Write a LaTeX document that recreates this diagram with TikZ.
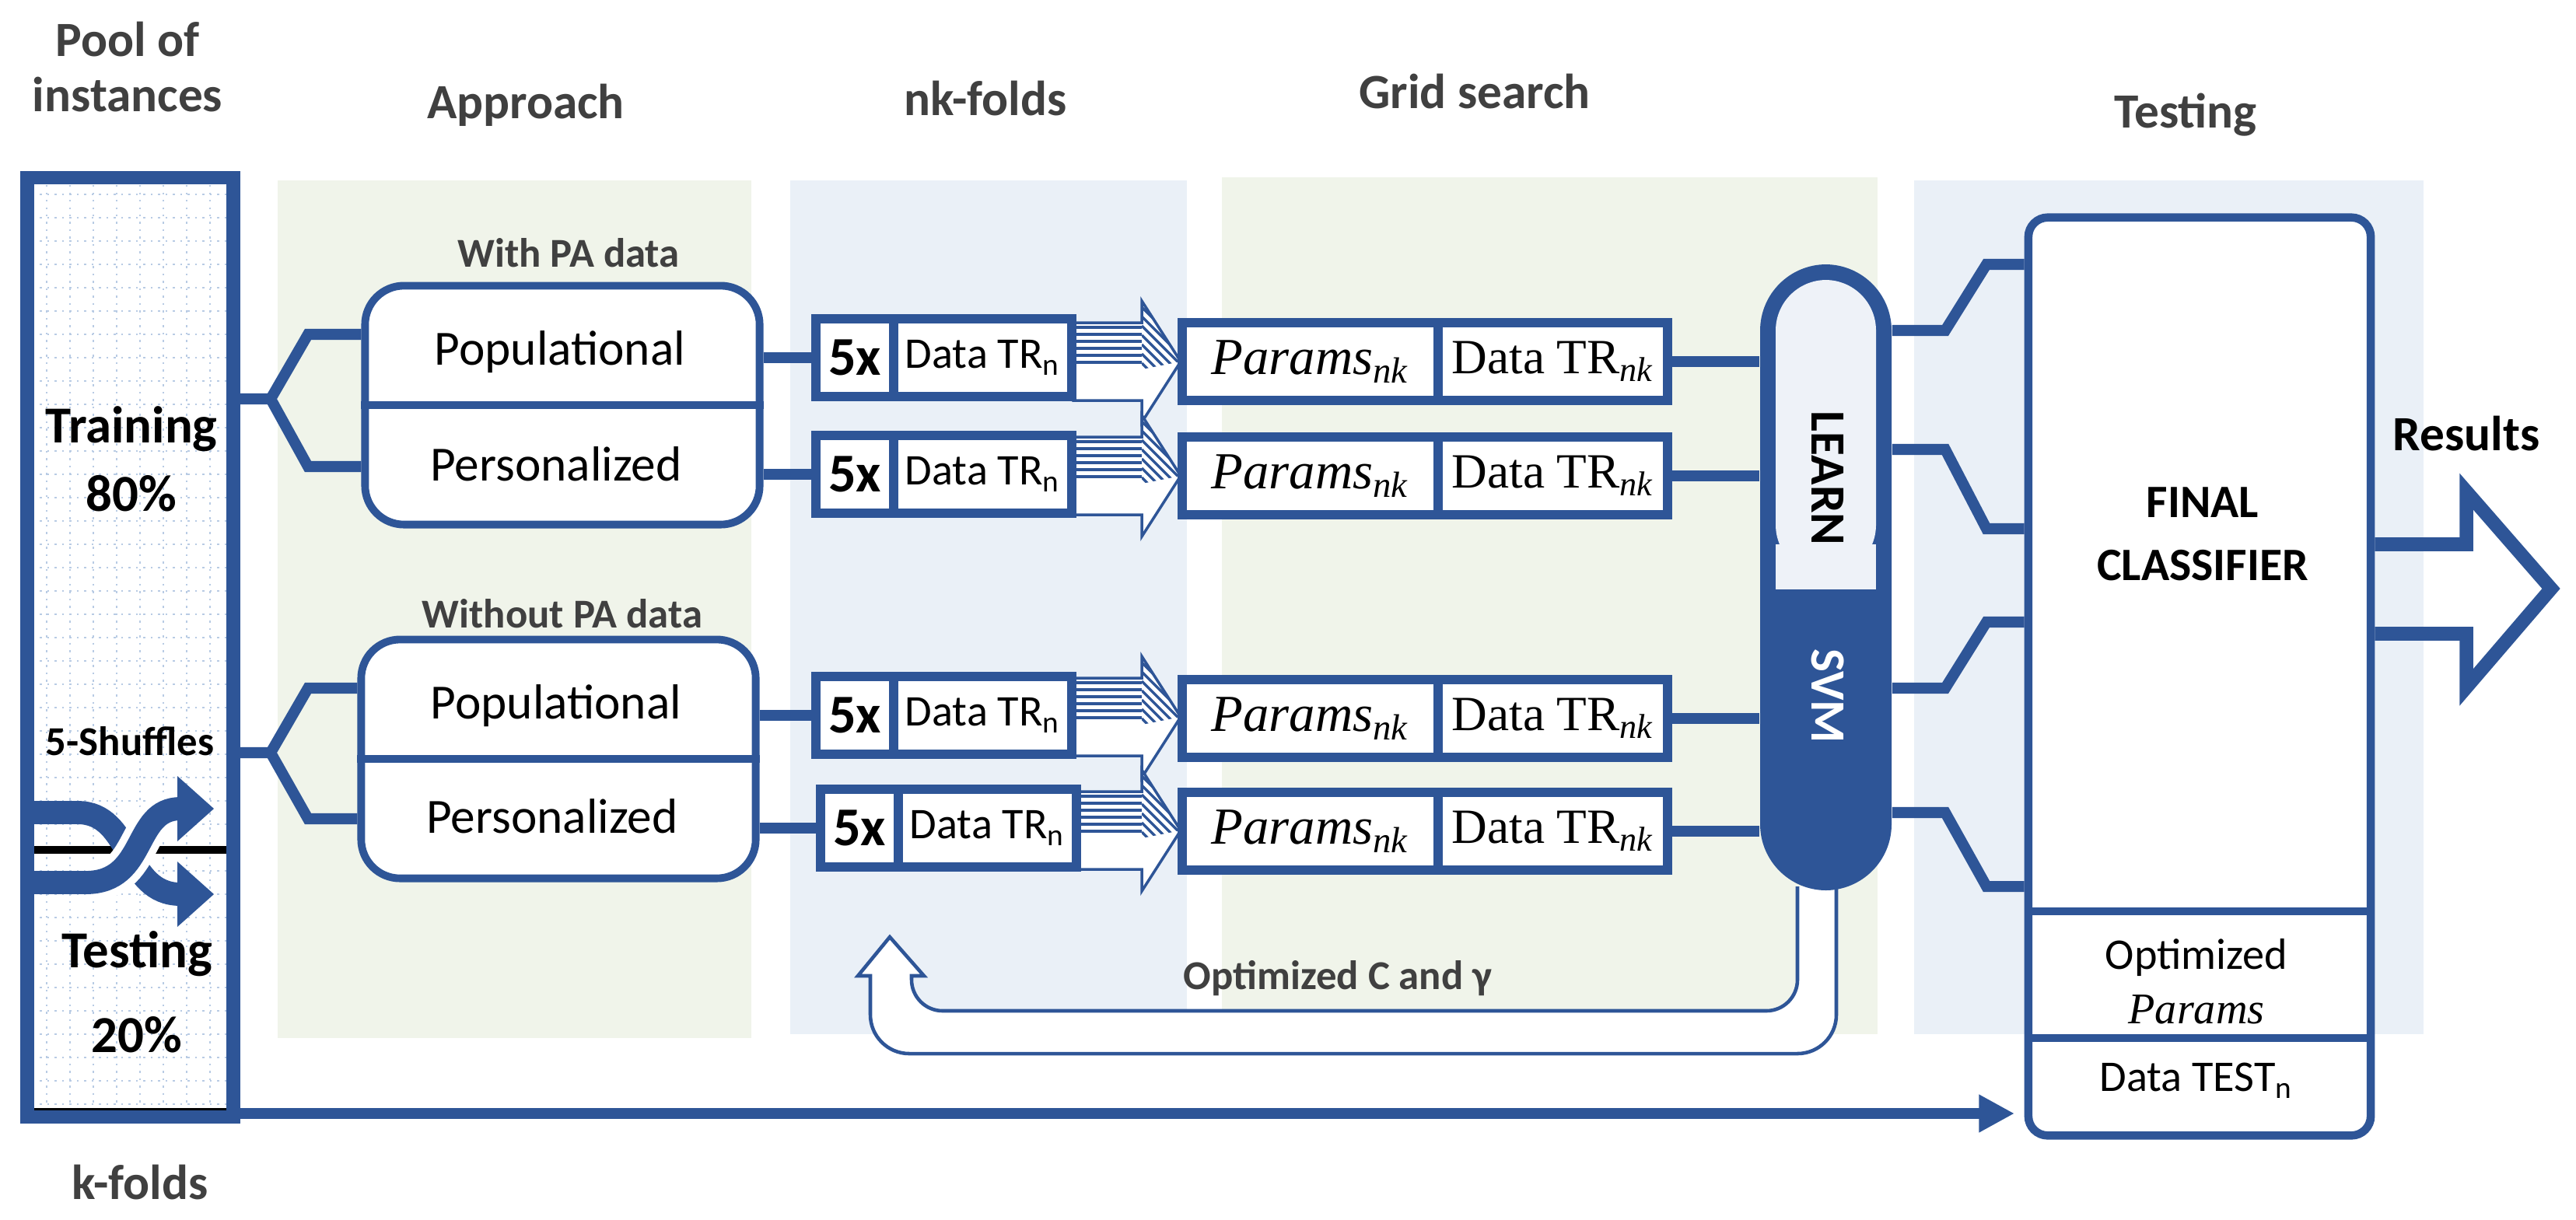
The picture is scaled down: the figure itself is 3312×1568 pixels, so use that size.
\documentclass[tikz,border=0pt]{standalone}
\usepackage{fontspec}
\setmainfont{Carlito}
\newfontfamily\cam{Liberation Serif}
\usetikzlibrary{arrows.meta}
\definecolor{bl}{HTML}{2E5597}
\definecolor{hd}{HTML}{404040}
\definecolor{gbg}{HTML}{F0F4EA}
\definecolor{bbg}{HTML}{EAF0F7}
\definecolor{gl}{HTML}{B8CBE4}
\definecolor{lf}{HTML}{EEF2F8}
\newcommand{\fs}[1]{\fontsize{#1}{#1}\selectfont}
\newcommand{\Pnk}{{\cam\itshape Params}\textsubscript{\cam\itshape nk}}
\newcommand{\DTRnk}{{\cam Data TR}\textsubscript{\cam\itshape nk}}
\newcommand{\DTRn}{Data TR\textsubscript{n}}
\newcommand\sarrow[1]{\begin{scope}[shift={(0,#1)}]
 \filldraw[draw=bl,fill=white,line width=1pt] (1380,-50) -- (1468,-50) -- (1468,-78) -- (1518,0) -- (1468,78) -- (1468,50) -- (1380,50) -- cycle;
 \foreach \s in {-44,-35,...,4} \draw[bl,line width=1.2pt] (1380,\s) -- (1468,\s);
 \begin{scope}\clip (1468,-78) -- (1518,0) -- (1468,10) -- cycle;
  \foreach \s in {-130,-118,...,10} \draw[bl,line width=1pt] (1468,\s) -- ++(70,70);\end{scope}
\end{scope}}
\begin{document}
\begin{tikzpicture}[x=0.01cm,y=-0.01cm,
 hdr/.style={font=\fs{18}\bfseries,text=hd,align=center},
 conn/.style={draw=bl,line width=4pt},
 cell/.style={draw=bl,line width=3.4pt,fill=white,minimum height=1.0cm,inner sep=0pt},
 abox/.style={draw=bl,line width=2.8pt,rounded corners=0.5cm,fill=white,minimum width=5.07cm,minimum height=3.07cm},
 txt/.style={font=\fs{18}},
 sub/.style={font=\fs{15}\bfseries,text=hd}]
\useasboundingbox[fill=white] (0,0) rectangle (3312,1568);
% backgrounds
\fill[gbg] (357,232) rectangle (966,1335);
\fill[bbg] (1016,232) rectangle (1526,1330);
\fill[gbg] (1571,228) rectangle (2414,1330);
\fill[bbg] (2461,232) rectangle (3116,1330);
% headers
\node[hdr] at (164,86) {Pool of\\[2pt]instances};
\node[hdr] at (676,135) {Approach};
\node[hdr] at (1267,127) {nk-folds};
\node[hdr] at (1896,118) {Grid search};
\node[hdr] at (2810,148) {Testing};
\node[hdr] at (180,1520) {k-folds};
% pool
\fill[white] (35,229) rectangle (300,1436);
\foreach \x in {60,90,...,290} \draw[gl,dotted,line width=0.7pt] (\x,238) -- (\x,1425);
\foreach \y in {250,280,...,1420} \draw[gl,dotted,line width=0.7pt] (42,\y) -- (294,\y);
\draw[black,line width=3pt] (42,1093) -- (294,1093);
\draw[black,line width=1.5pt] (42,1428) -- (294,1428);
\draw[bl,line width=8.5pt] (42,1045) -- (100,1045) .. controls (170,1045) and (160,1150) .. (232,1150);
\fill[bl] (228,1108) -- (275,1150) -- (228,1192) -- cycle;
\draw[white,line width=14pt] (110,1135) .. controls (190,1135) and (170,1040) .. (232,1040);
\draw[bl,line width=8.5pt] (42,1135) -- (110,1135) .. controls (190,1135) and (170,1040) .. (232,1040);
\fill[bl] (228,998) -- (275,1040) -- (228,1082) -- cycle;
\node[draw=bl,line width=5pt,minimum width=2.65cm,minimum height=12.07cm,inner sep=0pt] (pool) at (167.5,832.5) {};
\node[font=\fs{19}\bfseries,align=center] at (169,590) {Training\\[6pt]80\%};
\node[font=\fs{15}\bfseries] at (167,953) {5-Shuffles};
\node[font=\fs{19}\bfseries,align=center] at (176,1276) {Testing\\[12pt]20\%};
% approach
\node[sub] at (731,325) {With PA data};
\node[sub] at (723,789) {Without PA data};
\node[abox] (apA) at (723,521) {};
\node[abox] (apB) at (718,976) {};
\draw[bl,line width=2.8pt] (apA.west) -- (apA.east);
\draw[bl,line width=2.8pt] (apB.west) -- (apB.east);
\node[txt] at (720,453) {Populational};
\node[txt] at (715,597) {Personalized};
\node[txt] at (715,908) {Populational};
\node[txt] at (710,1050) {Personalized};
\coordinate (brA) at (348,513); \coordinate (brA1) at (396,430); \coordinate (brA2) at (396,600);
\coordinate (brB) at (348,968); \coordinate (brB1) at (396,885); \coordinate (brB2) at (396,1053);
\draw[conn] (pool.east |- brA) -- (brA) -- (brA1) -- (apA.west |- brA1);
\draw[conn] (brA) -- (brA2) -- (apA.west |- brA2);
\draw[conn] (pool.east |- brB) -- (brB) -- (brB1) -- (apB.west |- brB1);
\draw[conn] (brB) -- (brB2) -- (apB.west |- brB2);
% striped arrows
\sarrow{465}\sarrow{612}\sarrow{922}\sarrow{1068}
% 5x cells
\foreach \n/\y/\dx in {A/460/0,B/610/0,C/920/0,D/1065/6}{
 \node[cell,minimum width=1.0cm,font=\fs{20}\bfseries] (five\n) at (1099+\dx,\y) {5x};
 \node[cell,minimum width=2.29cm,font=\fs{16}] (dat\n) at (1263.5+\dx,\y) {\DTRn};
}
\draw[conn] (apA.east |- fiveA) -- (fiveA.west);
\draw[conn] (apA.east |- fiveB) -- (fiveB.west);
\draw[conn] (apB.east |- fiveC) -- (fiveC.west);
\draw[conn] (apB.east |- fiveD) -- (fiveD.west);
% feedback arrow
\filldraw[draw=bl,fill=white,line width=1.3pt] (2361,1140) [rounded corners=0.5cm]-- (2361,1355) -- (1119,1355) [sharp corners]-- (1119,1255) -- (1103,1255) -- (1144,1205) -- (1188,1255) -- (1172,1255) [rounded corners=0.4cm]-- (1172,1300) -- (2311,1300) [sharp corners]-- (2311,1140);
\node[font=\fs{15}\bfseries,text=hd] at (1720,1258) {Optimized C and γ};
% SVM capsule
\fill[bl,rounded corners=0.85cm] (2263,340) rectangle (2432,1145);
\fill[lf,rounded corners=0.65cm] (2283,360) rectangle (2412,740);
\fill[lf] (2283,700) rectangle (2412,758);
\node[minimum width=1.69cm,minimum height=8.05cm,inner sep=0pt] (svm) at (2347.5,742.5) {};
\node[rotate=-90,font=\fs{18}\bfseries] at (2350,615) {LEARN};
\node[rotate=-90,font=\fs{18}\bfseries,text=white] at (2350,895) {SVM};
% params cells
\foreach \n/\y in {A/465,B/612,C/924,D/1069}{
 \node[cell,minimum width=3.29cm,font=\fs{19}] (par\n) at (1684.5,\y) {\Pnk};
 \node[cell,minimum width=2.95cm,font=\fs{18}] (dtr\n) at (1996.5,\y) {\DTRnk};
 \draw[conn] (dtr\n.east) -- (svm.west |- dtr\n.east);
}
% final classifier
\node[draw=bl,line width=3pt,rounded corners=0.25cm,fill=white,minimum width=4.40cm,minimum height=11.80cm,inner sep=0pt] (fc) at (2828,870) {};
\draw[bl,line width=3pt] (2608,1172) -- (3048,1172);
\draw[bl,line width=3pt] (2608,1335) -- (3048,1335);
\node[font=\fs{17}\bfseries,align=center] at (2832,687) {FINAL\\[6pt]CLASSIFIER};
\node[font=\fs{16},align=center] at (2824,1262) {Optimized\\[4pt]{\cam\itshape Params}};
\node[font=\fs{16}] (dtest) at (2824,1390) {Data TEST\textsubscript{n}};
\foreach \n/\ya/\yb in {1/425/340,2/578/680,3/885/800,4/1045/1140}{
 \coordinate (k\n) at (2501,\ya); \coordinate (m\n) at (2554,\yb);
 \draw[conn] (svm.east |- k\n) -- (k\n) -- (m\n) -- (fc.west |- m\n);
}
% bottom arrow
\coordinate (ba) at (2590,1432);
\draw[conn,-{Triangle[length=13pt,width=13pt]}] (pool.east |- ba) -- (ba);
% results
\node[font=\fs{18}\bfseries] at (3171,558) {Results};
\draw[bl,line width=5pt,line join=miter] (fc.east |- 0,700) -- (3171,700) -- (3171,632) -- (3280,757) -- (3171,884) -- (3171,815) -- (fc.east |- 0,815);
\end{tikzpicture}
\end{document}
